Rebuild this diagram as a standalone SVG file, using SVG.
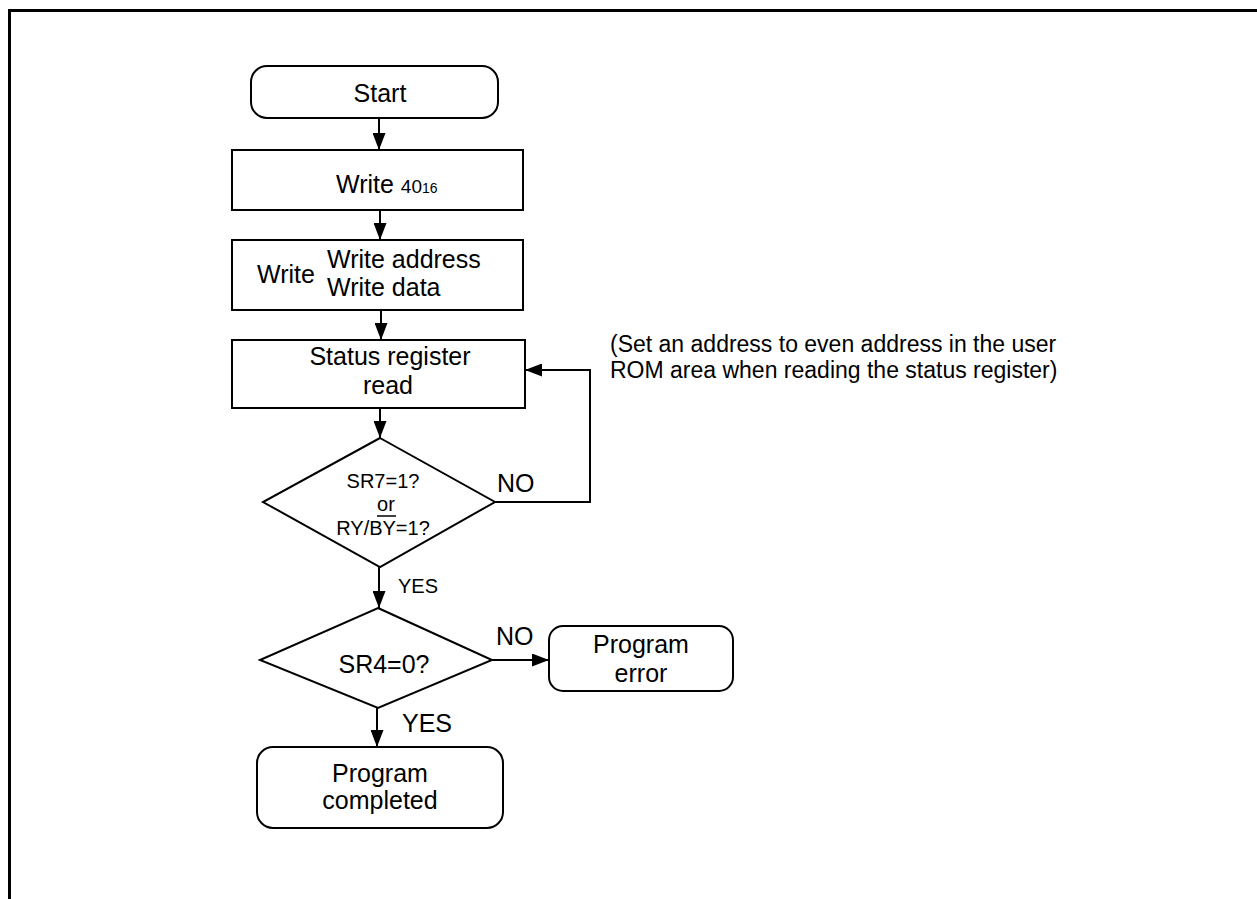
<svg xmlns="http://www.w3.org/2000/svg" width="1257" height="899" viewBox="0 0 1257 899">
<style>
.s{fill:#fff;stroke:#000;stroke-width:2}
.c{fill:none;stroke:#000;stroke-width:2}
text{font-family:"Liberation Sans",Arial,sans-serif;fill:#000}
.m{font-size:25px;text-anchor:middle}
.l{font-size:25px}
.d{font-size:20px;text-anchor:middle}
</style>
<defs>
<marker id="ah" markerWidth="17" markerHeight="13" refX="17" refY="6.5" orient="auto" markerUnits="userSpaceOnUse">
<path d="M0,0 L17,6.5 L0,13 Z" fill="#000"/>
</marker>
</defs>
<rect width="1257" height="899" fill="#fff"/>
<path d="M9.5,899 V10.5 H1257" fill="none" stroke="#000" stroke-width="3"/>

<g id="start">
<rect class="s" x="251" y="66" width="247" height="52" rx="16"/>
<text class="m" x="380" y="102">Start</text>
</g>
<g id="write40">
<rect class="s" x="232" y="150" width="291" height="60"/>
<text class="l" x="336" y="193">Write <tspan font-size="19">40</tspan><tspan font-size="14">16</tspan></text>
</g>
<g id="writeaddr">
<rect class="s" x="232" y="240" width="291" height="70"/>
<text class="l" x="257" y="283">Write</text>
<text class="l" x="327" y="268">Write address</text>
<text class="l" x="327" y="296">Write data</text>
</g>
<g id="status">
<rect class="s" x="232" y="340" width="293" height="68"/>
<text class="m" x="390" y="365">Status register</text>
<text class="m" x="388" y="394">read</text>
</g>
<g id="dec1">
<polygon class="s" points="380,438 495,502 380,567 263,502"/>
<text class="d" x="383" y="488">SR7=1?</text>
<text class="d" x="386" y="511">or</text>
<text class="d" x="383" y="535">RY/BY=1?</text>
<line x1="377" y1="516" x2="396" y2="516" stroke="#000" stroke-width="1.5"/>
</g>
<g id="dec2">
<polygon class="s" points="378,608 492,660 378,708 260,660"/>
<text class="m" x="384" y="673">SR4=0?</text>
</g>
<g id="progerr">
<rect class="s" x="549" y="626" width="184" height="65" rx="14"/>
<text class="m" x="641" y="653">Program</text>
<text class="m" x="641" y="682">error</text>
</g>
<g id="progdone">
<rect class="s" x="257" y="747" width="246" height="81" rx="16"/>
<text class="m" x="380" y="782">Program</text>
<text class="m" x="380" y="809">completed</text>
</g>
<g id="note">
<text style="font-size:23px" x="610" y="352">(Set an address to even address in the user</text>
<text style="font-size:23px" x="610" y="378">ROM area when reading the status register)</text>
</g>

<g id="connectors">
<line class="c" x1="379" y1="118" x2="379" y2="150" marker-end="url(#ah)"/>
<line class="c" x1="380" y1="210" x2="380" y2="240" marker-end="url(#ah)"/>
<line class="c" x1="381" y1="310" x2="381" y2="340" marker-end="url(#ah)"/>
<line class="c" x1="380" y1="408" x2="380" y2="438" marker-end="url(#ah)"/>
<polyline class="c" points="495,502 590,502 590,370 525,370" marker-end="url(#ah)"/>
<line class="c" x1="379" y1="567" x2="379" y2="608" marker-end="url(#ah)"/>
<line class="c" x1="492" y1="660" x2="549" y2="660" marker-end="url(#ah)"/>
<line class="c" x1="377" y1="708" x2="377" y2="747" marker-end="url(#ah)"/>
<text style="font-size:25px" x="497" y="492">NO</text>
<text style="font-size:20px" x="398" y="593">YES</text>
<text style="font-size:25px" x="496" y="645">NO</text>
<text style="font-size:25px" x="402" y="732">YES</text>
</g>
</svg>
